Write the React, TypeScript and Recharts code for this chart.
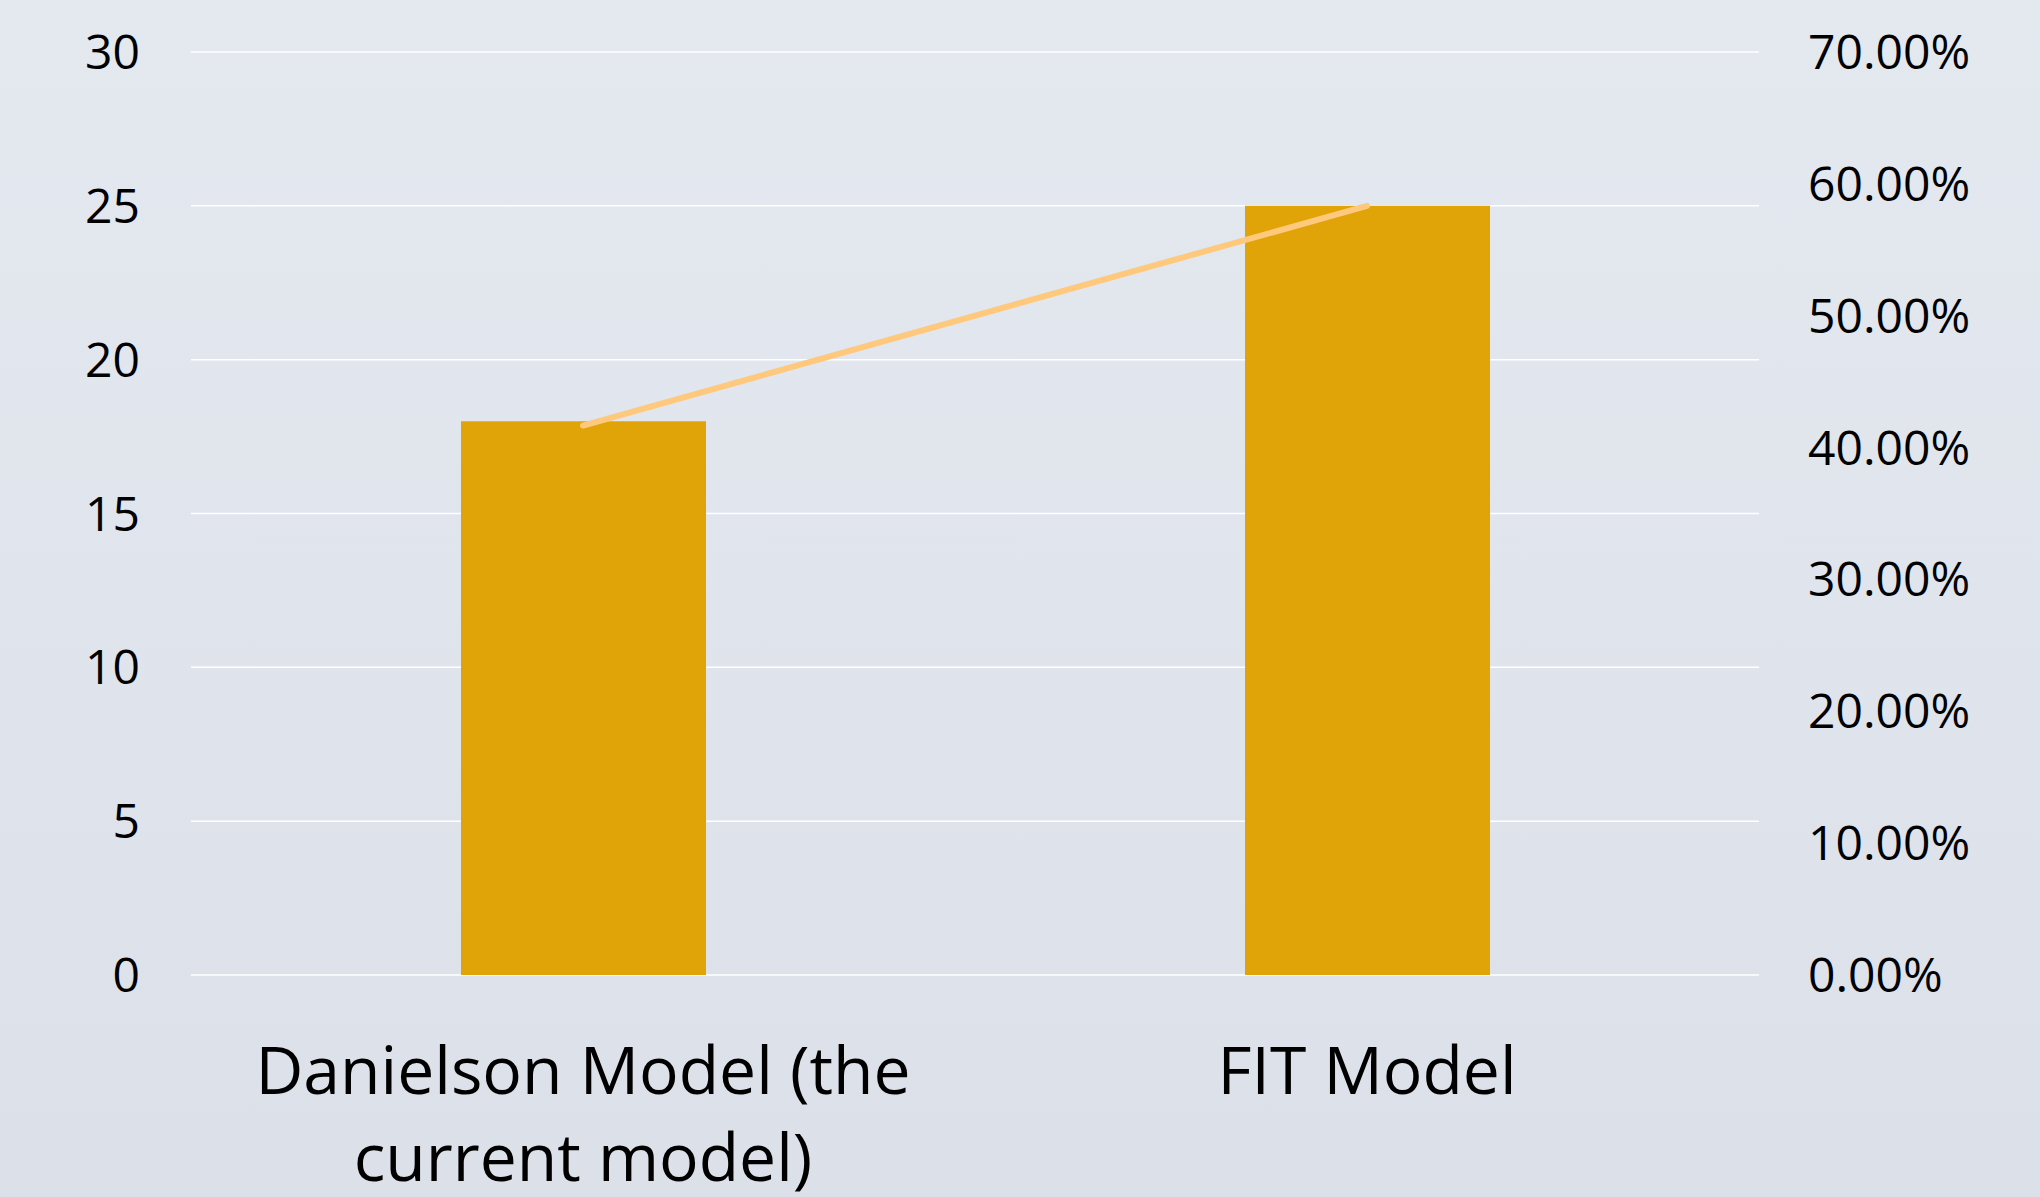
import React from "react";
import { ComposedChart, Bar, Line, XAxis, YAxis, CartesianGrid } from "recharts";

const categories = ["Danielson Model (the current model)", "FIT Model"];
const countValues = [18, 25];
const shareValues = [0.4167, 0.5833];
const leftTicks = [0, 5, 10, 15, 20, 25, 30];
const rightTicks = [0, 0.1, 0.2, 0.3, 0.4, 0.5, 0.6, 0.7];

const data = categories.map((c, i) => ({ name: c, count: countValues[i], share: shareValues[i] }));

const FONT = "'Open Sans', 'Noto Sans', sans-serif";

function wrap(text: string, maxChars: number): string[] {
  const words = text.split(" ");
  const lines: string[] = [];
  let cur = "";
  for (const w of words) {
    const t = cur ? cur + " " + w : w;
    if (t.length > maxChars && cur) {
      lines.push(cur);
      cur = w;
    } else cur = t;
  }
  if (cur) lines.push(cur);
  return lines;
}

const CategoryTick = (props: any) => {
  const { x, y, payload } = props;
  const lines = wrap(String(payload.value), 20);
  return (
    <g>
      {lines.map((l, i) => (
        <text key={i} x={x} y={y + 88 + i * 87} dy="0.355em" textAnchor="middle" fill="#000" fontSize={66} fontFamily={FONT}>
          {l}
        </text>
      ))}
    </g>
  );
};

export default function App() {
  return (
    <div
      style={{
        position: "fixed",
        left: 0,
        top: 0,
        width: 2040,
        height: 1197,
        background: "linear-gradient(180deg, #E4E8EF 0%, #DCE0E9 100%)",
      }}
    >
      <ComposedChart width={2040} height={1197} data={data} margin={{ top: 52, right: 0, bottom: 0, left: 0 }} barCategoryGap="34%">
        <CartesianGrid yAxisId="left" vertical={false} stroke="#FFFFFF" strokeWidth={1.5} />
        <XAxis dataKey="name" axisLine={false} tickLine={false} tick={<CategoryTick />} interval={0} height={222} />
        <YAxis
          yAxisId="left"
          orientation="left"
          width={191}
          domain={[0, 30]}
          ticks={leftTicks}
          axisLine={false}
          tickLine={false}
          tickMargin={45}
          tick={{ fontSize: 48, fill: "#000", fontFamily: FONT }}
        />
        <YAxis
          yAxisId="right"
          orientation="right"
          width={281}
          domain={[0, 0.7]}
          ticks={rightTicks}
          axisLine={false}
          tickLine={false}
          tickMargin={43}
          tickFormatter={(v: number) => (v * 100).toFixed(2) + "%"}
          tick={{ fontSize: 48, fill: "#000", fontFamily: FONT, textAnchor: "start" }}
        />
        <Bar yAxisId="left" dataKey="count" fill="#E1A408" barSize={245} isAnimationActive={false} />
        <Line
          yAxisId="right"
          dataKey="share"
          stroke="#FFC97D"
          strokeWidth={6}
          strokeLinecap="round"
          dot={false}
          activeDot={false}
          isAnimationActive={false}
        />
      </ComposedChart>
    </div>
  );
}
